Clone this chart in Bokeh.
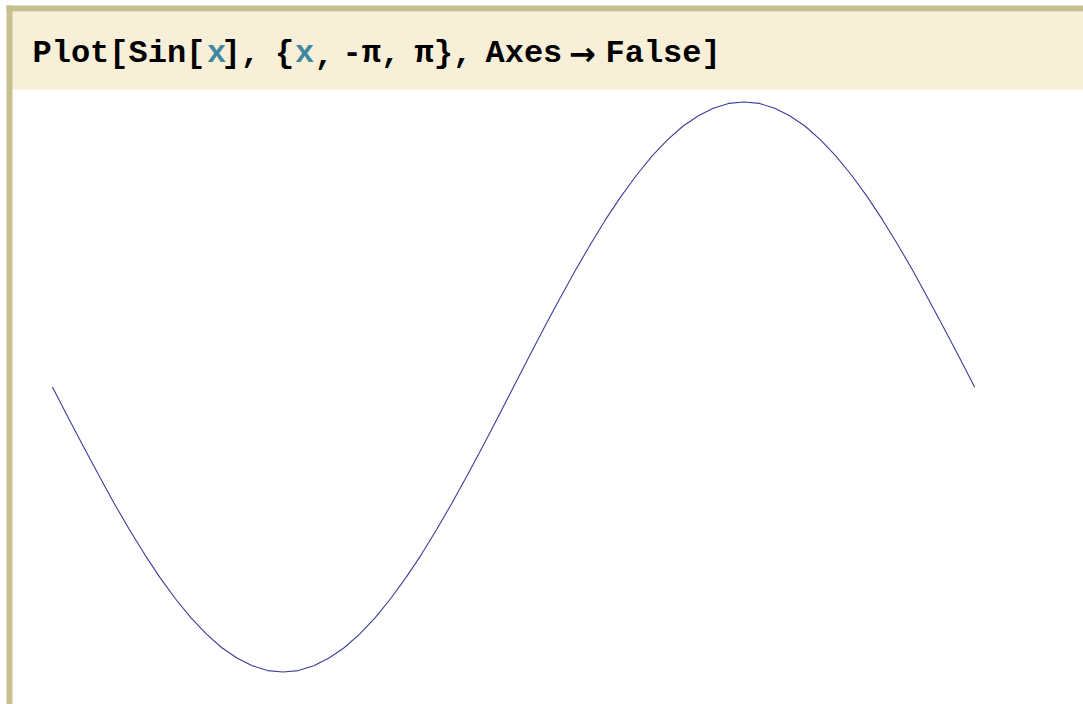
from bokeh.plotting import figure
from bokeh.models import Range1d, ColumnDataSource
from bokeh.core.properties import value
from bokeh.embed import file_html
from bokeh.resources import INLINE

# ---- data: Sin[x] on [-pi, pi] ----
x_vals = [-3.142, -3.037, -2.932, -2.827, -2.723, -2.618, -2.513, -2.409, -2.304, -2.199,
          -2.094, -1.990, -1.885, -1.780, -1.676, -1.571, -1.466, -1.361, -1.257, -1.152,
          -1.047, -0.942, -0.838, -0.733, -0.628, -0.524, -0.419, -0.314, -0.209, -0.105,
          0.000, 0.105, 0.209, 0.314, 0.419, 0.524, 0.628, 0.733, 0.838, 0.942,
          1.047, 1.152, 1.257, 1.361, 1.466, 1.571, 1.676, 1.780, 1.885, 1.990,
          2.094, 2.199, 2.304, 2.409, 2.513, 2.618, 2.723, 2.827, 2.932, 3.037, 3.142]
y_vals = [0.000, -0.105, -0.208, -0.309, -0.407, -0.500, -0.588, -0.669, -0.743, -0.809,
          -0.866, -0.914, -0.951, -0.978, -0.995, -1.000, -0.995, -0.978, -0.951, -0.914,
          -0.866, -0.809, -0.743, -0.669, -0.588, -0.500, -0.407, -0.309, -0.208, -0.105,
          0.000, 0.105, 0.208, 0.309, 0.407, 0.500, 0.588, 0.669, 0.743, 0.809,
          0.866, 0.914, 0.951, 0.978, 0.995, 1.000, 0.995, 0.978, 0.951, 0.914,
          0.866, 0.809, 0.743, 0.669, 0.588, 0.500, 0.407, 0.309, 0.208, 0.105, 0.000]

# input-cell text pieces (black / teal) and their placement
text_pieces = ["Plot[Sin[", "x", "],", "{", "x", ",", "-\u03c0,", "\u03c0},", "Axes", "\u2192", "False]"]
text_colors = ["black", "#3f86a0", "black", "black", "#3f86a0", "black", "black", "black", "black", "black", "black"]
text_fonts = ["Liberation Mono"] * 9 + ["DejaVu Sans"] + ["Liberation Mono"]
text_x = [32, 216, 221, 284, 304, 323.5, 342, 414, 485, 582, 605]
text_align = ["left", "center", "left", "center", "center", "center", "left", "left", "left", "center", "left"]

W, H = 1083, 704

p = figure(width=W, height=H, output_backend="svg", toolbar_location=None,
           x_range=Range1d(-3.4960, 3.8844), y_range=Range1d(-1.1140, 1.3561),
           x_axis_location=None, y_axis_location=None,
           min_border=0, min_border_left=0, min_border_right=0,
           min_border_top=0, min_border_bottom=0)
p.outline_line_color = None
p.background_fill_color = "white"
p.border_fill_color = "white"
p.xgrid.visible = False
p.ygrid.visible = False

p.extra_x_ranges = {"px": Range1d(0, W)}
p.extra_y_ranges = {"px": Range1d(H, 0)}

# notebook cell decoration
p.quad(left=[12], right=[W], top=[11], bottom=[89], fill_color="#f7efd8", line_color=None,
       x_range_name="px", y_range_name="px")
p.quad(left=[6], right=[W], top=[5], bottom=[11], fill_color="#c7bf8f", line_color=None,
       x_range_name="px", y_range_name="px")
p.quad(left=[6], right=[12], top=[5], bottom=[H], fill_color="#c7bf8f", line_color=None,
       x_range_name="px", y_range_name="px")

for t, c, f, xx, al in zip(text_pieces, text_colors, text_fonts, text_x, text_align):
    p.text(x=[xx], y=[53], text=[t], text_color=c, text_font=value(f),
           text_font_style="bold", text_font_size="32px", text_align=al,
           text_baseline="alphabetic", x_range_name="px", y_range_name="px")

src = ColumnDataSource(dict(x=x_vals, y=y_vals))
p.line("x", "y", source=src, line_color="#3d3d99", line_width=1.1)

open("out.html", "w").write(file_html(p, INLINE))
